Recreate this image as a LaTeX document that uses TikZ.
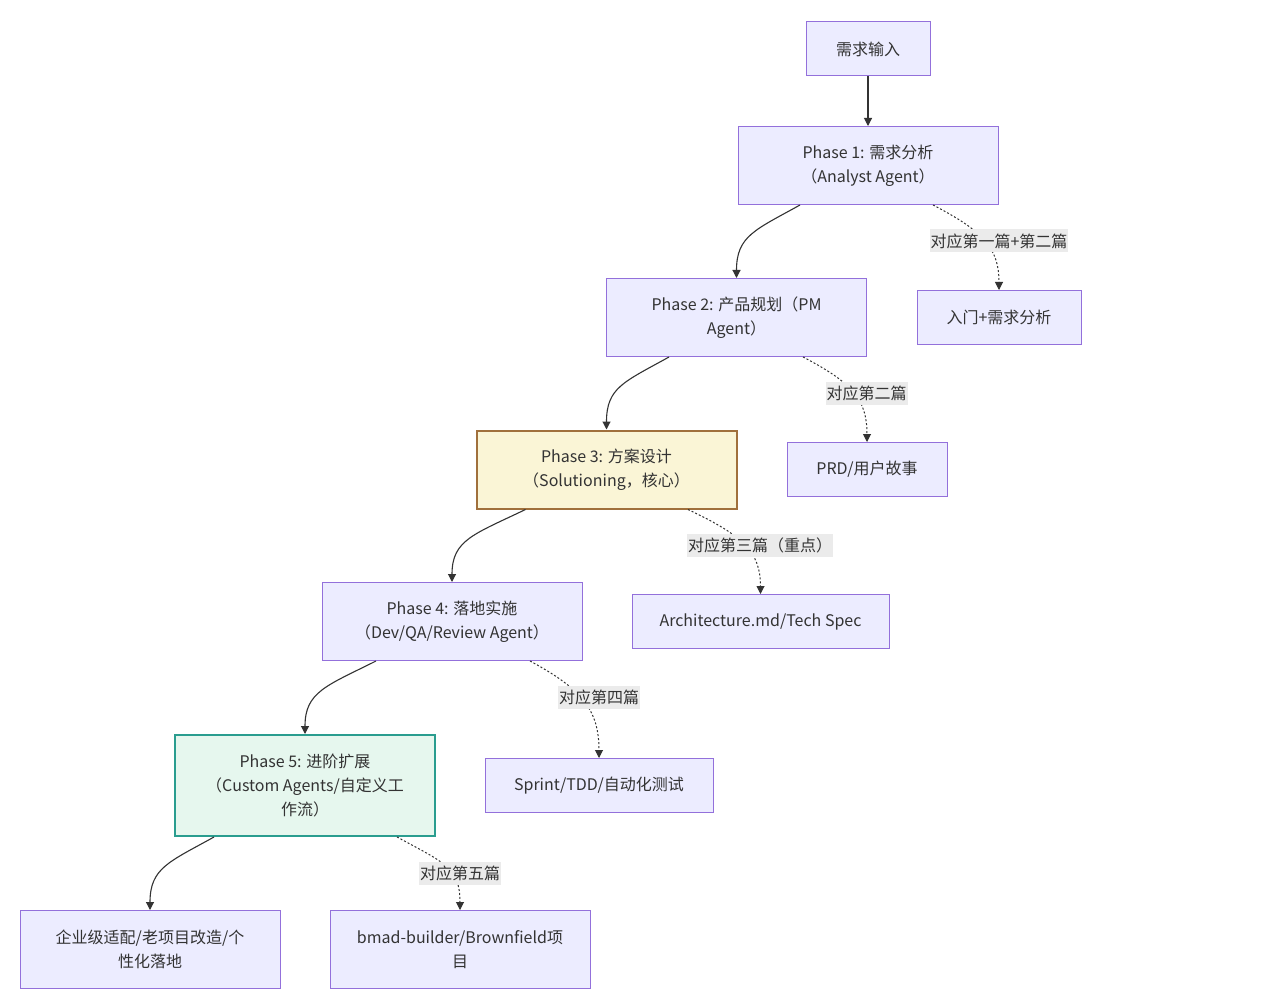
\documentclass[tikz,border=0pt]{standalone}
\usepackage{fontspec}
\setmainfont{Noto Sans CJK SC}
\usetikzlibrary{arrows.meta, positioning, calc}
\definecolor{NodeFill}{HTML}{ECECFF}
\definecolor{NodeStroke}{HTML}{9370DB}
\definecolor{CoreFill}{HTML}{FAF5D6}
\definecolor{CoreStroke}{HTML}{A0703C}
\definecolor{ExtFill}{HTML}{E6F7EE}
\definecolor{ExtStroke}{HTML}{2A9D8F}
\definecolor{TextGrey}{HTML}{333333}
\definecolor{LabelGrey}{HTML}{EBEBEB}
\tikzset{
  % Box styles
  phasebox/.style={rectangle, draw=NodeStroke, fill=NodeFill, line width=1pt, minimum width=260pt, minimum height=78pt, inner sep=0pt, text=TextGrey, align=center, font=\fontsize{16}{24}\selectfont},
  docbox/.style={phasebox, minimum height=54pt},
  corebox/.style={phasebox, draw=CoreStroke, fill=CoreFill, line width=2pt},
  extbox/.style={phasebox, draw=ExtStroke, fill=ExtFill, line width=2pt, minimum height=101pt},
  edgelabel/.style={rectangle, fill=LabelGrey, inner xsep=1pt, inner ysep=0pt, minimum height=23pt, text=TextGrey, font=\fontsize{16}{24}\selectfont},
  % Arrow styles
  arrow/.style={-{Triangle[length=8pt,width=8pt]}, line width=1.1pt, TextGrey},
  dottedarrow/.style={arrow, line width=1pt, dash pattern=on 2pt off 2pt}
}
\begin{document}
\begin{tikzpicture}[x=1pt, y=-1pt]
  \fill[white] (0,0) rectangle (1283,1003);
  \useasboundingbox (0,0) rectangle (1283,1003);

  % Main phases
  \node[docbox, minimum width=124pt] (input) at (868,49) {需求输入};
  \node[phasebox] (ph1) at (868,165.5) {Phase 1: 需求分析\\（Analyst Agent）};
  \node[phasebox] (ph2) at (736.5,317.5) {Phase 2: 产品规划（PM\\Agent）};
  \node[corebox] (ph3) at (606.5,469.5) {Phase 3: 方案设计\\（Solutioning，核心）};
  \node[phasebox] (ph4) at (452,621.5) {Phase 4: 落地实施\\（Dev/QA/Review Agent）};
  \node[extbox] (ph5) at (305,785.5) {Phase 5: 进阶扩展\\（Custom Agents/自定义工\\作流）};
  \node[phasebox] (ent) at (150,949.5) {企业级适配/老项目改造/个\\性化落地};

  % Article boxes
  \node[docbox, minimum width=164pt] (doc1) at (999,317.5) {入门+需求分析};
  \node[docbox, minimum width=160pt] (doc2) at (867,469.5) {PRD/用户故事};
  \node[docbox, minimum width=257pt] (doc3) at (760.5,621.5) {Architecture.md/Tech Spec};
  \node[docbox, minimum width=228pt] (doc4) at (599,785.5) {Sprint/TDD/自动化测试};
  \node[phasebox] (doc5) at (460,949.5) {bmad-builder/Brownfield项\\目};

  % Flow arrows
  \draw[arrow] (input) -- (ph1);
  \draw[arrow] ([xshift=-68pt]ph1.south) .. controls +(-45,25) and +(0,-42) .. (ph2.north);
  \draw[arrow] ([xshift=-67.5pt]ph2.south) .. controls +(-45,25) and +(0,-42) .. (ph3.north);
  \draw[arrow] ([xshift=-81pt]ph3.south) .. controls +(-52,25) and +(0,-42) .. (ph4.north);
  \draw[arrow] ([xshift=-76pt]ph4.south) .. controls +(-50,25) and +(0,-42) .. (ph5.north);
  \draw[arrow] ([xshift=-91pt]ph5.south) .. controls +(-45,25) and +(0,-42) .. (ent.north);

  % Article arrows
  \draw[dottedarrow] ([xshift=65pt]ph1.south) .. controls +(50,26) and +(0,-42) .. (doc1.north);
  \draw[dottedarrow] ([xshift=66.5pt]ph2.south) .. controls +(50,26) and +(0,-42) .. (doc2.north);
  \draw[dottedarrow] ([xshift=81.5pt]ph3.south) .. controls +(55,26) and +(0,-42) .. (doc3.north);
  \draw[dottedarrow] ([xshift=78pt]ph4.south) .. controls +(52,28) and +(0,-48) .. (doc4.north);
  \draw[dottedarrow] ([xshift=92pt]ph5.south) .. controls +(48,26) and +(0,-42) .. (doc5.north);

  % Edge labels
  \node[edgelabel] (lab1) at (999,241) {对应第一篇+第二篇};
  \node[edgelabel] (lab2) at (866.5,393) {对应第二篇};
  \node[edgelabel] (lab3) at (760,545) {对应第三篇（重点）};
  \node[edgelabel] (lab4) at (599,697) {对应第四篇};
  \node[edgelabel] (lab5) at (460,873) {对应第五篇};
\end{tikzpicture}
\end{document}
